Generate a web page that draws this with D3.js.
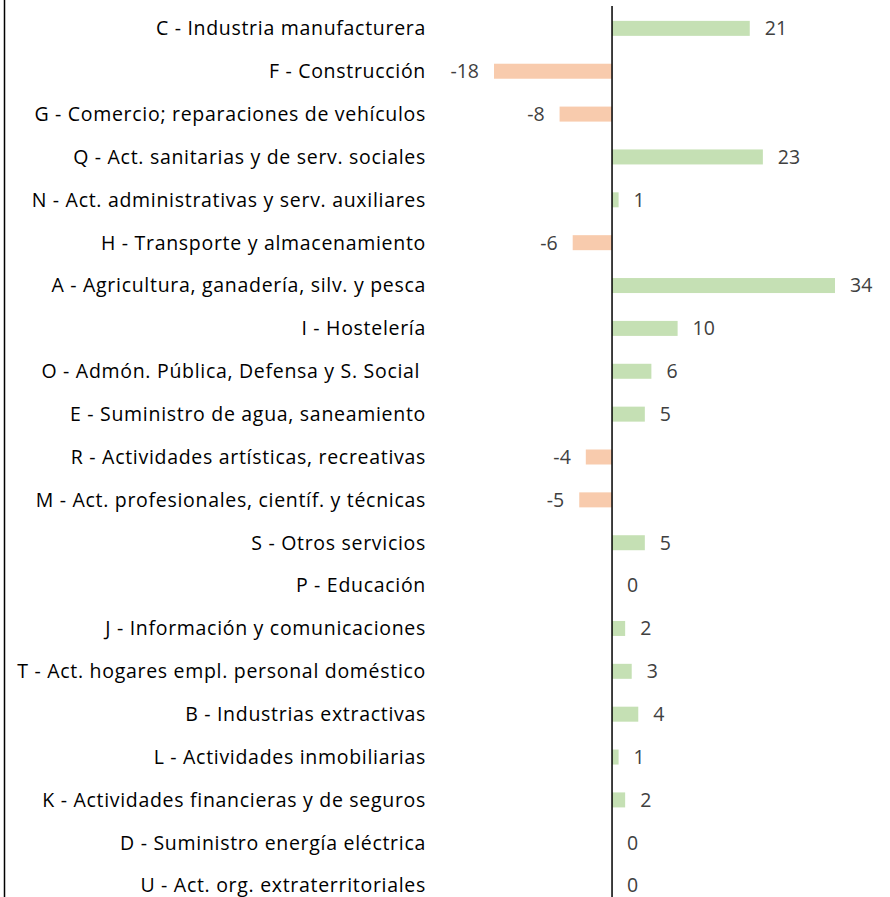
<!DOCTYPE html>
<html>
<head>
<meta charset="utf-8">
<script src="https://cdn.jsdelivr.net/npm/d3@7"></script>
<style>
  body { margin: 0; background: #fff; }
  svg { display: block; }
</style>
</head>
<body>
<div class="chart"></div>
<script>
// sector labels, top to bottom
var sectors = [
  "C - Industria manufacturera",
  "F - Construcción",
  "G - Comercio; reparaciones de vehículos",
  "Q - Act. sanitarias y de serv. sociales",
  "N - Act. administrativas y serv. auxiliares",
  "H - Transporte y almacenamiento",
  "A - Agricultura, ganadería, silv. y pesca",
  "I - Hostelería",
  "O - Admón. Pública, Defensa y S. Social ",
  "E - Suministro de agua, saneamiento",
  "R - Actividades artísticas, recreativas",
  "M - Act. profesionales, científ. y técnicas",
  "S - Otros servicios",
  "P - Educación",
  "J - Información y comunicaciones",
  "T - Act. hogares empl. personal doméstico",
  "B - Industrias extractivas",
  "L - Actividades inmobiliarias",
  "K - Actividades financieras y de seguros",
  "D - Suministro energía eléctrica",
  "U - Act. org. extraterritoriales"
];
var values = [21, -18, -8, 23, 1, -6, 34, 10, 6, 5, -4, -5, 5, 0, 2, 3, 4, 1, 2, 0, 0];

var width = 890, height = 897;
var svg = d3.select(".chart").append("svg")
  .attr("width", width)
  .attr("height", height);

var x = d3.scaleLinear()
  .domain([-18, 34])
  .range([494, 835]);

var y = d3.scaleBand()
  .domain(sectors)
  .range([8, 906])
  .paddingInner(0.65)
  .paddingOuter(0.3);

var font = "'Open Sans', 'Noto Sans', sans-serif";

// left frame line
svg.append("line")
  .attr("x1", 4.5).attr("x2", 4.5)
  .attr("y1", 0).attr("y2", height)
  .attr("stroke", "#000").attr("stroke-width", 1.5);

// bars
svg.selectAll("rect.bar")
  .data(values)
  .enter().append("rect")
  .attr("class", "bar")
  .attr("x", function(d){ return x(Math.min(0, d)); })
  .attr("y", function(d, i){ return y(sectors[i]); })
  .attr("width", function(d){ return Math.abs(x(d) - x(0)); })
  .attr("height", y.bandwidth())
  .attr("fill", function(d){ return d < 0 ? "#F8CBAD" : "#C5E0B4"; });

// zero axis
svg.append("line")
  .attr("x1", x(0)).attr("x2", x(0))
  .attr("y1", 6).attr("y2", height)
  .attr("stroke", "#000").attr("stroke-width", 1.5);

// category labels
svg.selectAll("text.cat")
  .data(sectors)
  .enter().append("text")
  .attr("class", "cat")
  .attr("x", 426)
  .attr("y", function(d){ return y(d) + y.bandwidth() / 2; })
  .attr("dy", "0.35em")
  .attr("text-anchor", "end")
  .attr("font-family", font)
  .attr("font-size", 19.5)
  .attr("letter-spacing", 0.7)
  .attr("fill", "#000")
  .style("white-space", "pre")
  .text(function(d){ return d; });

// value labels
svg.selectAll("text.val")
  .data(values)
  .enter().append("text")
  .attr("class", "val")
  .attr("x", function(d){ return d < 0 ? x(d) - 15 : x(d) + 15; })
  .attr("y", function(d, i){ return y(sectors[i]) + y.bandwidth() / 2; })
  .attr("dy", "0.35em")
  .attr("text-anchor", function(d){ return d < 0 ? "end" : "start"; })
  .attr("font-family", font)
  .attr("font-size", 19.5)
  .attr("fill", "#404040")
  .text(function(d){ return d; });
</script>
</body>
</html>
